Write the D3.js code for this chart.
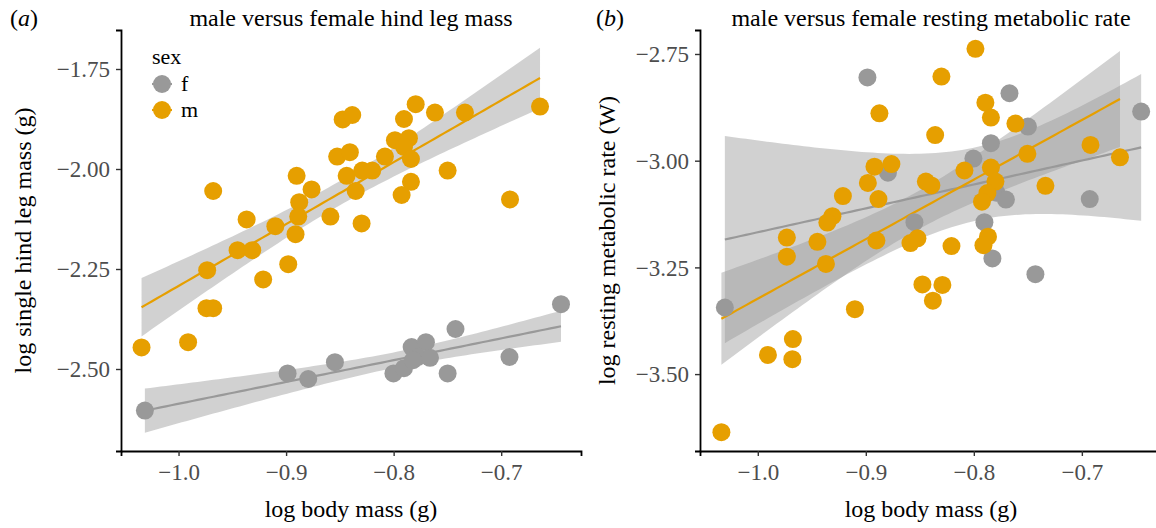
<!DOCTYPE html>
<html>
<head>
<meta charset="utf-8">
<script src="https://cdn.jsdelivr.net/npm/d3@7"></script>
<style>
  body { margin: 0; background: #fff; }
  svg text { font-family: "Liberation Serif", "DejaVu Serif", serif; }
</style>
</head>
<body>
<div id="vis"></div>
<script>
// panel (a): log body mass vs log single hind leg mass
const aMaleX = [-1.0344,-0.9911,-0.9740,-0.9678,-0.9734,-0.9451,-0.9315,-0.9213,-0.8980,-0.8912,-0.9100,-0.9678,-0.9367,-0.8902,-0.8763,-0.8878,-0.8887,-0.8588,-0.8298,-0.8437,-0.8353,-0.8292,-0.8199,-0.8525,-0.8407,-0.8474,-0.8385,-0.8081,-0.7988,-0.7858,-0.7904,-0.7839,-0.7839,-0.7926,-0.7904,-0.7795,-0.7616,-0.7337,-0.7498,-0.6918,-0.6639];
const aMaleY = [-2.446,-2.433,-2.348,-2.348,-2.253,-2.203,-2.203,-2.276,-2.238,-2.163,-2.143,-2.055,-2.126,-2.017,-2.051,-2.083,-2.119,-2.119,-2.136,-2.017,-2.055,-2.004,-2.004,-1.969,-1.958,-1.876,-1.865,-1.969,-1.928,-1.923,-1.945,-1.975,-2.032,-2.065,-1.875,-1.838,-1.859,-1.859,-2.004,-2.076,-1.844];
const aFemX = [-1.0313,-0.8986,-0.8794,-0.8546,-0.8002,-0.7904,-0.7833,-0.7700,-0.7774,-0.7662,-0.7820,-0.7498,-0.7425,-0.6923,-0.6444];
const aFemY = [-2.604,-2.511,-2.525,-2.483,-2.511,-2.498,-2.445,-2.433,-2.470,-2.472,-2.478,-2.511,-2.400,-2.470,-2.338];

// panel (b): log body mass vs log resting metabolic rate
const bMaleX = [-0.7985,-0.8300,-0.8874,-0.7893,-0.7842,-0.7615,-0.8358,-0.6920,-0.7504,-0.6647,-0.8920,-0.8763,-0.8087,-0.7842,-0.8981,-0.8444,-0.8393,-0.7800,-0.7337,-0.9212,-0.8883,-0.7874,-0.7925,-0.9309,-0.9356,-0.9731,-0.9448,-0.8902,-0.8587,-0.8522,-0.8207,-0.7869,-0.7911,-0.9731,-0.9369,-0.8476,-0.8291,-0.8379,-0.9101,-0.9675,-0.9906,-0.9680,-1.0337];
const bMaleY = [-2.738,-2.803,-2.889,-2.864,-2.899,-2.913,-2.940,-2.963,-2.984,-2.992,-3.014,-3.008,-3.023,-3.016,-3.052,-3.049,-3.058,-3.049,-3.059,-3.083,-3.090,-3.076,-3.096,-3.130,-3.145,-3.180,-3.190,-3.187,-3.193,-3.182,-3.200,-3.178,-3.198,-3.225,-3.242,-3.290,-3.291,-3.328,-3.348,-3.418,-3.455,-3.465,-3.636];
const bFemX = [-1.0305,-0.8985,-0.8795,-0.8550,-0.8004,-0.7902,-0.7842,-0.7828,-0.7670,-0.7791,-0.7703,-0.7499,-0.7430,-0.6927,-0.6451];
const bFemY = [-3.344,-2.805,-3.028,-3.144,-2.995,-3.144,-2.959,-3.229,-2.842,-3.075,-3.091,-2.920,-3.266,-3.090,-2.885];

const sexes = ['f', 'm'];
const xTicks = [-1.0, -0.9, -0.8, -0.7];
const aYTicks = [-2.50, -2.25, -2.00, -1.75];
const bYTicks = [-3.50, -3.25, -3.00, -2.75];

const colour = d3.scaleOrdinal().domain(sexes).range(['#999999', '#E69F00']);

const svg = d3.select('#vis').append('svg')
    .attr('width', 1156)
    .attr('height', 528);

// t quantile (0.975), Cornish-Fisher
function tq(df) {
  const z = 1.959964;
  return z + (z*z*z + z) / (4*df) + (5*z**5 + 16*z**3 + 3*z) / (96*df*df);
}

// linear fit + 95% band, like geom_smooth(method = 'lm')
function lmFit(xs, ys) {
  const n = xs.length;
  const mx = d3.mean(xs), my = d3.mean(ys);
  let sxx = 0, sxy = 0;
  xs.forEach((x, i) => { sxx += (x - mx) ** 2; sxy += (x - mx) * (ys[i] - my); });
  const b = sxy / sxx, a = my - b * mx;
  let sse = 0;
  xs.forEach((x, i) => { sse += (ys[i] - a - b * x) ** 2; });
  const s = Math.sqrt(sse / (n - 2));
  const t = tq(n - 2);
  const [lo, hi] = d3.extent(xs);
  return d3.range(80).map(k => {
    const x = lo + (hi - lo) * k / 79;
    const yh = a + b * x;
    const se = s * Math.sqrt(1 / n + (x - mx) ** 2 / sxx);
    return {x: x, y: yh, lo: yh - t * se, hi: yh + t * se};
  });
}

function panel(opt) {
  const x = d3.scaleLinear().domain([-1.0535, -0.6258]).range(opt.xr);
  const y = d3.scaleLinear().domain(opt.yd).range([451, 30]);
  const g = svg.append('g');

  const groups = [
    {sex: 'f', xs: opt.fx, ys: opt.fy},
    {sex: 'm', xs: opt.mx, ys: opt.my}
  ];
  groups.forEach(d => d.fit = lmFit(d.xs, d.ys));

  // bands
  g.selectAll('.band').data(groups).join('path')
    .attr('class', 'band')
    .attr('d', d => d3.area().x(p => x(p.x)).y0(p => y(p.lo)).y1(p => y(p.hi))(d.fit))
    .attr('fill', '#999999')
    .attr('fill-opacity', 0.45);

  // fitted lines
  g.selectAll('.fit').data(groups).join('path')
    .attr('class', 'fit')
    .attr('d', d => d3.line().x(p => x(p.x)).y(p => y(p.y))(d.fit))
    .attr('fill', 'none')
    .attr('stroke', d => colour(d.sex))
    .attr('stroke-width', 2.2);

  // points
  const pts = [];
  groups.forEach(d => d.xs.forEach((v, i) => pts.push({sex: d.sex, x: v, y: d.ys[i]})));
  g.selectAll('.point').data(pts).join('circle')
    .attr('class', 'point')
    .attr('cx', d => x(d.x))
    .attr('cy', d => y(d.y))
    .attr('r', 9)
    .attr('fill', d => colour(d.sex));

  // axes
  const xAxis = g.append('g')
    .attr('transform', 'translate(0,451)')
    .call(d3.axisBottom(x).tickValues(xTicks).tickFormat(d3.format('.1f')).tickSize(5).tickPadding(8));
  const yAxis = g.append('g')
    .attr('transform', `translate(${opt.xr[0]},0)`)
    .call(d3.axisLeft(y).tickValues(opt.yTicks).tickFormat(d3.format('.2f')).tickSize(5).tickPadding(6));
  [xAxis, yAxis].forEach(ax => {
    ax.select('.domain').attr('stroke', '#000').attr('stroke-width', 1.8);
    ax.selectAll('.tick line').attr('stroke', '#333').attr('stroke-width', 1.4);
    ax.selectAll('.tick text')
      .attr('fill', '#4d4d4d')
      .style('font-size', '23px')
      .style('font-family', '"Liberation Serif", serif');
  });
  yAxis.selectAll('.tick text').attr('dy', '0.34em');

  const cx = (opt.xr[0] + opt.xr[1]) / 2;
  g.append('text')
    .attr('x', cx).attr('y', 517)
    .attr('text-anchor', 'middle')
    .style('font-size', '24px')
    .text('log body mass (g)');

  g.append('text')
    .attr('transform', `translate(${opt.ylabX},240.5) rotate(-90)`)
    .attr('text-anchor', 'middle')
    .style('font-size', '24px')
    .text(opt.ylab);

  g.append('text')
    .attr('x', opt.titleX).attr('y', 26)
    .attr('text-anchor', 'middle')
    .style('font-size', '24px')
    .text(opt.title);

  const tag = g.append('text')
    .attr('x', opt.tagX).attr('y', 26)
    .style('font-size', '24px');
  tag.append('tspan').text('(');
  tag.append('tspan').style('font-style', 'italic').text(opt.tag);
  tag.append('tspan').text(')');

  return g;
}

const ga = panel({
  xr: [121, 581], yd: [-2.705, -1.6525], yTicks: aYTicks,
  fx: aFemX, fy: aFemY, mx: aMaleX, my: aMaleY,
  ylab: 'log single hind leg mass (g)', ylabX: 31,
  title: 'male versus female hind leg mass', titleX: 351,
  tag: 'a', tagX: 10
});

panel({
  xr: [700, 1162], yd: [-3.6802, -2.6938], yTicks: bYTicks,
  fx: bFemX, fy: bFemY, mx: bMaleX, my: bMaleY,
  ylab: 'log resting metabolic rate (W)', ylabX: 615,
  title: 'male versus female resting metabolic rate', titleX: 931,
  tag: 'b', tagX: 596
});

// legend
const legend = ga.append('g').attr('transform', 'translate(152,0)');
legend.append('text')
  .attr('x', 0).attr('y', 64)
  .style('font-size', '22px')
  .text('sex');
const key = legend.selectAll('.key').data(sexes).join('g')
  .attr('class', 'key')
  .attr('transform', (d, i) => `translate(0,${84 + i * 26})`);
key.append('line')
  .attr('x1', 0).attr('x2', 20)
  .attr('stroke', d => colour(d)).attr('stroke-width', 2.2);
key.append('circle')
  .attr('cx', 10).attr('r', 9)
  .attr('fill', d => colour(d));
key.append('text')
  .attr('x', 29).attr('y', 7)
  .style('font-size', '22px')
  .text(d => d);
</script>
</body>
</html>
